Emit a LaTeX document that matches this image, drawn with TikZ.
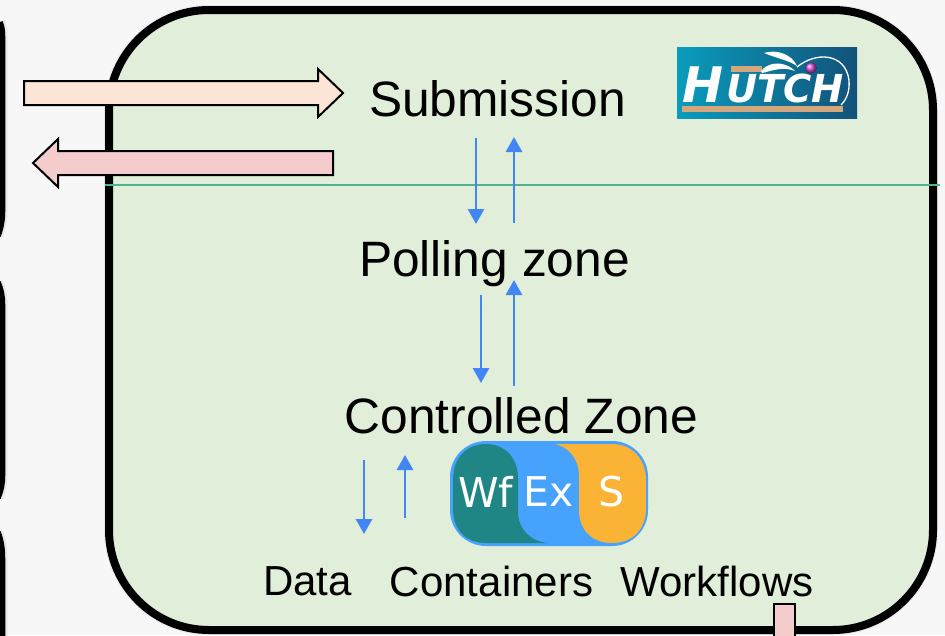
\documentclass[tikz,border=0pt]{standalone}
\usepackage{fontspec}
\setmainfont{Liberation Sans}
\newfontfamily\wfx{DejaVu Sans}
\usetikzlibrary{arrows.meta}
\definecolor{pagebg}{HTML}{F7F7F7}
\definecolor{zonebg}{HTML}{E1EEDA}
\definecolor{peach}{HTML}{FCE5D6}
\definecolor{rose}{HTML}{F4CCCC}
\definecolor{flow}{HTML}{4285F4}
\definecolor{divider}{HTML}{4FB38E}
\definecolor{wfteal}{HTML}{1F8585}
\definecolor{wfblue}{HTML}{46A2FC}
\definecolor{wforange}{HTML}{FBB336}
\definecolor{tan}{HTML}{D3A67C}
\definecolor{logoL}{HTML}{0A9CBC}
\definecolor{logoR}{HTML}{12527A}
\tikzset{
  x=1pt,y=-1pt,
  zonebox/.style={draw=black,line width=8pt,fill=zonebg},
  sidebox/.style={draw=black,line width=5.5pt},
  softedge/.style={draw=black!9,line width=10pt},
  bigarrow/.style={draw=black,line width=2pt,line join=miter},
  flowarrow/.style={draw=flow,line width=2.8pt,-{Triangle[length=15pt,width=16pt]}},
  zonelabel/.style={font=\fontsize{49.7}{55}\selectfont,inner sep=0pt,anchor=center,text=black},
  itemlabel/.style={font=\fontsize{42}{48}\selectfont,inner sep=0pt,anchor=center,text=black},
  wflabel/.style={font=\wfx\fontsize{41}{46}\selectfont,text=white,inner sep=0pt,anchor=center},
  hutchlabel/.style={text=white,inner sep=0pt,anchor=base west}
}
\begin{document}
\begin{tikzpicture}
\useasboundingbox (0,0) rectangle (945,635);
\fill[pagebg] (0,0) rectangle (945,635);
% neighbouring panels, cropped at the left edge
\begin{scope}
\clip (0,0) rectangle (945,635);
\foreach \s in {softedge,sidebox}{
  \path[\s] (0,22) .. controls (2,27) and (2.5,31) .. (2.5,36) -- (2.5,212) .. controls (2.5,220) and (1,228) .. (-2,236);
  \path[\s] (-2,282) .. controls (1,289) and (2.5,296) .. (2.5,304) -- (2.5,476) .. controls (2.5,484) and (1,491) .. (-2,498);
  \path[\s] (-2,532) .. controls (1,540) and (2.5,548) .. (2.5,558) -- (2.5,640);
}
% main zone
\path[softedge,rounded corners=100pt] (109,10) rectangle (933,630);
\path[zonebox,rounded corners=100pt] (109,10) rectangle (933,630);
\end{scope}
% labels
\node[zonelabel] (submission) at (497.5,99) {Submission};
\node[zonelabel] (polling) at (494.5,264) {Polling zone};
\node[zonelabel] (controlled) at (521.5,416) {Controlled Zone};
\node[itemlabel] (data) at (307.5,581) {Data};
\node[itemlabel] (containers) at (491.5,581) {Containers};
\node[itemlabel] (workflows) at (717,581) {Workflows};
% big arrows
\path[bigarrow,fill=peach] (24,81) -- (318,81) -- (318,69) -- (343,93) -- (318,117) -- (318,105) -- (24,105) -- cycle;
\path[bigarrow,fill=rose] (333,151) -- (58,151) -- (58,139) -- (33,163) -- (58,187) -- (58,175) -- (333,175) -- cycle;
% divider
\coordinate (divL) at (105,185);
\coordinate (divR) at (940,185);
\draw[divider,line width=2pt] (divL) -- (divR);
% flow arrows
\coordinate (a1) at (476,138); \coordinate (a2) at (476,224);
\coordinate (b1) at (514,223); \coordinate (b2) at (514,137);
\coordinate (c1) at (481,295); \coordinate (c2) at (481,383);
\coordinate (d1) at (514,386); \coordinate (d2) at (514,280);
\coordinate (e1) at (364,460); \coordinate (e2) at (364,534);
\coordinate (f1) at (405,518); \coordinate (f2) at (405,455);
\draw[flowarrow] (a1) -- (a2);
\draw[flowarrow] (b1) -- (b2);
\draw[flowarrow] (c1) -- (c2);
\draw[flowarrow] (d1) -- (d2);
\draw[flowarrow] (e1) -- (e2);
\draw[flowarrow] (f1) -- (f2);
% WfExS logo
\path[fill=wfblue,rounded corners=36pt] (450,441) rectangle (648,546);
\fill[wfteal] (453,480) .. controls (453,458) and (466,444) .. (486,444)
  .. controls (505,444) and (518,458) .. (518,478) -- (518,512)
  .. controls (518,530) and (532,542) .. (548,543) -- (486,543)
  .. controls (466,543) and (453,530) .. (453,508) -- cycle;
\fill[wforange] (555,444) -- (612,444) .. controls (633,444) and (646,460) .. (646,480)
  -- (646,508) .. controls (646,530) and (632,543) .. (612,543)
  .. controls (592,543) and (579,530) .. (579,510) -- (579,476)
  .. controls (579,458) and (568,447) .. (555,444) -- cycle;
\node[wflabel] (wf) at (485.5,492) {Wf};
\node[wflabel] (ex) at (549,492) {Ex};
\node[wflabel] (s) at (612,492) {S};
% Hutch logo
\fill[left color=logoL,right color=logoR] (677,47) rectangle (857,118);
\fill[tan] (682,105.5) rectangle (843,112);
\fill[tan] (731,66) rectangle (762,72);
\node[hutchlabel,font=\wfx\bfseries\itshape\fontsize{49}{50}\selectfont] (hutchH) at (682,102) {H};
\node[hutchlabel,font=\wfx\bfseries\itshape\fontsize{38.5}{42}\selectfont] (hutchR) at (726,102) {UTCH};
\fill[white] (764,53) .. controls (776,49) and (792,54) .. (797,66) .. controls (788,60) and (776,58) .. (764,53) -- cycle;
\fill[white] (761,71) .. controls (768,62) and (784,60) .. (795,71) .. controls (782,66) and (772,71) .. (762,73) -- cycle;
\draw[white,line width=1.3pt] (797,67) .. controls (815,52) and (845,52) .. (849,80) .. controls (850,92) and (846,100) .. (841,105);
\fill[ball color=magenta!60!violet!70] (811,68) circle (5.5);
% pink bar
\path[bigarrow,fill=rose] (773.5,640) -- (773.5,604) -- (794.5,604) -- (794.5,640);
\end{tikzpicture}
\end{document}
